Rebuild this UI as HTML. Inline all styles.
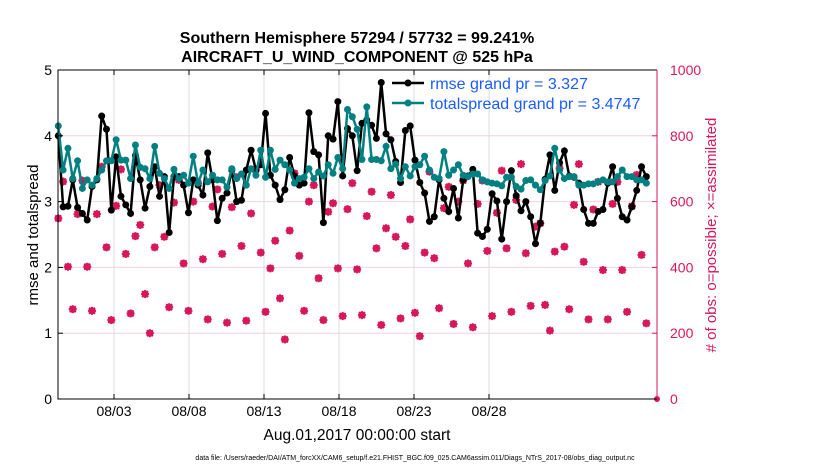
<!DOCTYPE html>
<html><head><meta charset="utf-8"><style>
body{margin:0;background:#fff;}
svg{display:block;font-family:"Liberation Sans",sans-serif;}
</style></head><body>
<svg id="c" width="830" height="470" viewBox="0 0 830 470">
<g id="grid"></g>
<g id="marks"></g>
<g id="axes"></g>
<text x="357" y="43" text-anchor="middle" font-size="16" font-weight="bold">Southern Hemisphere 57294 / 57732 = 99.241%</text>
<text x="357" y="62" text-anchor="middle" font-size="16" font-weight="bold">AIRCRAFT_U_WIND_COMPONENT @ 525 hPa</text>
<text transform="translate(38,235) rotate(-90)" text-anchor="middle" font-size="15">rmse and totalspread</text>
<text transform="translate(716,235) rotate(-90)" text-anchor="middle" font-size="15" fill="#d6185a"># of obs: o=possible; ×=assimilated</text>
<text x="357" y="440" text-anchor="middle" font-size="15.5">Aug.01,2017 00:00:00 start</text>
<text x="415" y="460" text-anchor="middle" font-size="7">data file: /Users/raeder/DAI/ATM_forcXX/CAM6_setup/f.e21.FHIST_BGC.f09_025.CAM6assim.011/Diags_NTrS_2017-08/obs_diag_output.nc</text>
<g>
<line x1="392" y1="83" x2="424" y2="83" stroke="#000" stroke-width="2.5"/><circle cx="408" cy="83" r="3.5" fill="#000"/>
<text x="430" y="89" font-size="16" fill="#1a5cff">rmse grand pr = 3.327</text>
<line x1="392" y1="103" x2="424" y2="103" stroke="#008080" stroke-width="2.5"/><circle cx="408" cy="103" r="3.5" fill="#008080"/>
<text x="430" y="109" font-size="16" fill="#1a5cff">totalspread grand pr = 3.4747</text>
</g>
</svg>
<script>
const rmse=[4.0,2.92,2.93,3.33,2.91,2.82,2.72,3.23,3.33,4.3,4.1,2.87,3.68,3.08,2.95,2.82,3.7,3.33,2.9,3.23,3.53,3.08,3.38,2.53,3.38,3.38,3.25,2.83,3.33,3.25,3.1,3.74,3.33,2.71,3.05,3.13,3.48,3.0,3.02,3.48,3.78,
3.48,3.56,4.34,3.4,3.25,3.03,3.18,3.67,3.39,3.25,3.28,4.35,3.76,3.71,2.68,4.0,3.95,4.52,3.39,4.11,4.0,3.47,4.19,4.24,4.16,3.96,4.81,4.03,3.94,3.61,3.29,4.08,4.15,3.63,3.29,3.13,2.7,2.77,3.33,3.05,2.85,
3.2,2.75,3.33,3.39,3.49,2.52,2.47,2.58,3.12,3.01,2.43,3.0,3.47,3.09,2.86,3.0,2.77,2.36,2.67,3.34,3.71,3.17,3.59,3.77,3.39,3.37,3.28,2.88,2.67,2.67,2.85,2.88,3.28,3.53,3.05,2.77,2.72,2.92,3.17,3.53,3.38];
const spread=[4.15,3.48,3.81,3.35,3.62,3.2,3.33,3.25,3.35,3.48,3.62,3.62,3.94,3.63,3.63,3.35,3.86,3.52,3.5,3.35,3.84,3.43,3.35,3.2,3.49,3.35,3.4,3.28,3.69,3.28,3.48,3.3,3.4,3.33,3.33,3.22,3.5,3.35,3.42,3.25,3.5,
3.4,3.78,3.37,3.78,3.49,3.63,3.56,3.48,3.28,3.35,3.37,3.5,3.35,3.45,3.39,3.56,3.43,3.67,3.5,4.4,4.29,4.1,3.64,4.44,3.64,3.64,3.62,3.84,3.5,3.57,3.35,3.53,3.39,3.53,3.56,3.69,3.48,3.37,3.35,3.76,3.4,
3.48,3.56,3.4,3.38,3.42,3.42,3.33,3.3,3.28,3.27,3.24,3.37,3.37,3.23,3.19,3.32,3.33,3.25,3.18,3.32,3.39,3.81,3.48,3.35,3.38,3.38,3.25,3.25,3.27,3.27,3.3,3.33,3.3,3.3,3.38,3.48,3.38,3.38,3.33,3.33,3.28];
const nobs=[549,661,402,273,562,664,402,268,562,706,461,240,587,698,441,260,495,529,319,200,461,650,493,279,597,666,412,268,600,656,425,242,585,637,441,232,583,674,465,238,564,
698,445,265,397,481,306,181,512,686,435,268,600,650,367,240,569,595,397,252,577,656,394,255,556,630,458,225,519,620,493,245,465,546,262,191,445,691,428,276,580,645,
228,600,664,412,218,593,664,450,252,566,694,458,265,605,714,443,283,524,534,286,208,448,701,463,273,590,714,417,242,576,660,392,242,593,660,392,265,586,681,438,230];
const xTickLabels=["08/03","08/08","08/13","08/18","08/23","08/28"];
const xTickDays=[2,7,12,17,22,27];
const yTicks=[0,1,2,3,4,5];
const y2Ticks=[0,200,400,600,800,1000];

const NS="http://www.w3.org/2000/svg";
const L=58,R=657,T=70,B=399;
const x0=58.3,dx=4.82;
const xi=i=>x0+i*dx;
const xd=d=>84+d*15;
const y=v=>B-(v/5)*(B-T);
const y2=v=>B-(v/1000)*(B-T);
function mk(tag,attrs,parent){const e=document.createElementNS(NS,tag);for(const k in attrs)e.setAttribute(k,attrs[k]);parent.appendChild(e);return e;}
const grid=document.getElementById('grid'),marks=document.getElementById('marks'),axes=document.getElementById('axes');

xTickDays.forEach((d,i)=>{
 const g=mk('line',{x1:xd(d),x2:xd(d),y1:T,y2:B,stroke:'#ddd','stroke-width':1},grid);
 
 
 const t=mk('text',{x:xd(d),y:416,'text-anchor':'middle','font-size':14},axes);t.textContent=xTickLabels[i];
 
 
 mk('line',{x1:xd(d),x2:xd(d),y1:B,y2:B-5,stroke:'#000'},axes);
 mk('line',{x1:xd(d),x2:xd(d),y1:T,y2:T+5,stroke:'#000'},axes);
});
y2Ticks.forEach(v=>{
 if(v>0&&v<1000){const g=mk('line',{x1:L,x2:R,y1:y2(v),y2:y2(v),stroke:'#f0d4dc','stroke-width':1},grid);
 
 }
 const t=mk('text',{x:670,y:y2(v)+5,'font-size':14,fill:'#d6185a'},axes);t.textContent=v;
 
 
 mk('line',{x1:R,x2:R-5,y1:y2(v),y2:y2(v),stroke:'#d6185a'},axes);
});
yTicks.forEach(v=>{
 const t=mk('text',{x:52,y:y(v)+5,'font-size':14,'text-anchor':'end'},axes);t.textContent=v;
 
 
 mk('line',{x1:L,x2:L+5,y1:y(v),y2:y(v),stroke:'#000'},axes);
});
mk('path',{d:`M${R},${T} H${L} V${B} H${R}`,fill:'none',stroke:'#000','stroke-width':1},axes);
mk('line',{x1:R,x2:R,y1:T,y2:B,stroke:'#d6185a','stroke-width':1},axes);

nobs.forEach((v,i)=>{
 const cx=xi(i),cy=y2(v);
 const g=mk('g',{stroke:'#d6185a','stroke-width':2},marks);
 
 
 mk('line',{x1:cx-4,x2:cx+4,y1:cy,y2:cy},g);
 mk('line',{x1:cx,x2:cx,y1:cy-4,y2:cy+4},g);
 mk('line',{x1:cx-3,x2:cx+3,y1:cy-3,y2:cy+3},g);
 mk('line',{x1:cx-3,x2:cx+3,y1:cy+3,y2:cy-3},g);
 mk('circle',{cx:cx,cy:cy,r:3,fill:'none','stroke-width':1.2},g);
});
function series(arr,col,name){
 const p=mk('polyline',{points:arr.map((v,i)=>xi(i)+','+y(v)).join(' '),fill:'none',stroke:col,'stroke-width':2.5},marks);
 
 
 arr.forEach((v,i)=>{const c=mk('circle',{cx:xi(i),cy:y(v),r:3.5,fill:col},marks);
 
 });
}
series(rmse,'#000','rmse');
series(spread,'#008080','totalspread');
const end=mk('circle',{cx:R,cy:B,r:3,fill:'#d6185a'},marks);


</script>
</body></html>
